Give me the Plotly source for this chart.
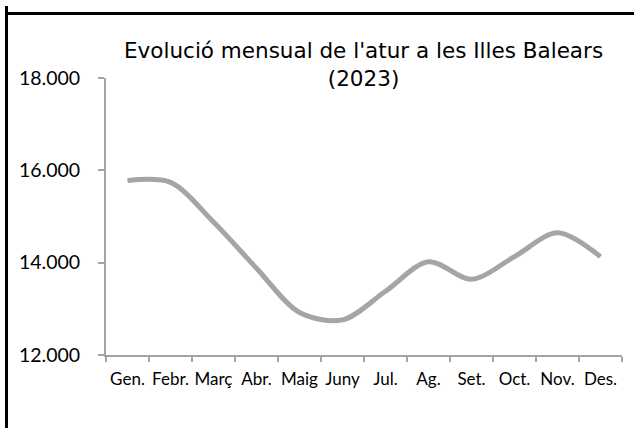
import plotly.graph_objects as go

months = ["Gen.", "Febr.", "Març", "Abr.", "Maig", "Juny", "Jul.", "Ag.", "Set.", "Oct.", "Nov.", "Des."]
atur = [15780, 15740, 14880, 13880, 12920, 12760, 13380, 14020, 13640, 14130, 14650, 14130]
y_ticks = [12000, 14000, 16000, 18000]
y_tick_text = ["12.000", "14.000", "16.000", "18.000"]
title_text = "Evolució mensual de l'atur a les Illes Balears<br>(2023)"

FONT = "Lato"
TITLE_FONT = "DejaVu Sans"
AXIS_COLOR = "#a3a3a3"

fig = go.Figure()
fig.add_trace(go.Scatter(
    x=months, y=atur, mode="lines",
    line=dict(color="#a5a5a5", width=5, shape="spline", smoothing=0.9),
    hoverinfo="x+y", showlegend=False,
))

L, R, T, B = 106, 12, 78, 73
W, H = 634, 428
pw, ph = W - L - R, H - T - B
fx = lambda px: (px - L) / pw
fy = lambda py: (H - B - py) / ph

fig.update_layout(
    width=W, height=H,
    margin=dict(l=L, r=R, t=T, b=B, pad=0),
    paper_bgcolor="white", plot_bgcolor="white",
    font=dict(family=FONT, color="#000000", size=16),
    separators=",.",
    xaxis=dict(
        type="category", tickson="boundaries", ticks="outside", ticklen=5,
        tickcolor=AXIS_COLOR, tickwidth=2, showline=True, linecolor=AXIS_COLOR,
        linewidth=2, showgrid=False, zeroline=False, tickangle=0,
        ticklabelstandoff=8,
        tickfont=dict(family=FONT, size=17, color="#000"),
        range=[-0.5, 11.5],
    ),
    yaxis=dict(
        range=[12000, 18000], tickvals=y_ticks, ticktext=y_tick_text,
        ticks="outside", ticklen=6, tickcolor=AXIS_COLOR, tickwidth=2,
        showline=True, linecolor=AXIS_COLOR, linewidth=2, showgrid=False,
        zeroline=False, ticklabelstandoff=14,
        tickfont=dict(family=FONT, size=19.5, color="#000"),
    ),
    annotations=[
        dict(text=title_text, xref="paper", yref="paper", x=fx(363), y=fy(36),
             xanchor="center", yanchor="top", align="center", showarrow=False,
             font=dict(family=TITLE_FONT, size=21.5, color="#000")),
    ],
)

frame_js = (
    "document.body.style.margin='0';"
    "document.body.style.overflow='hidden';"
    "var t=document.createElement('div');"
    "t.style.cssText='position:absolute;left:5px;top:12px;width:700px;height:3px;"
    "background:#000;pointer-events:none;z-index:10;';"
    "document.body.appendChild(t);"
    "var l=document.createElement('div');"
    "l.style.cssText='position:absolute;left:5px;top:5.5px;width:3px;height:600px;"
    "background:#000;pointer-events:none;z-index:10;';"
    "document.body.appendChild(l);"
)

fig.write_html(
    "out.html",
    config={"displayModeBar": False},
    post_script=frame_js,
)
